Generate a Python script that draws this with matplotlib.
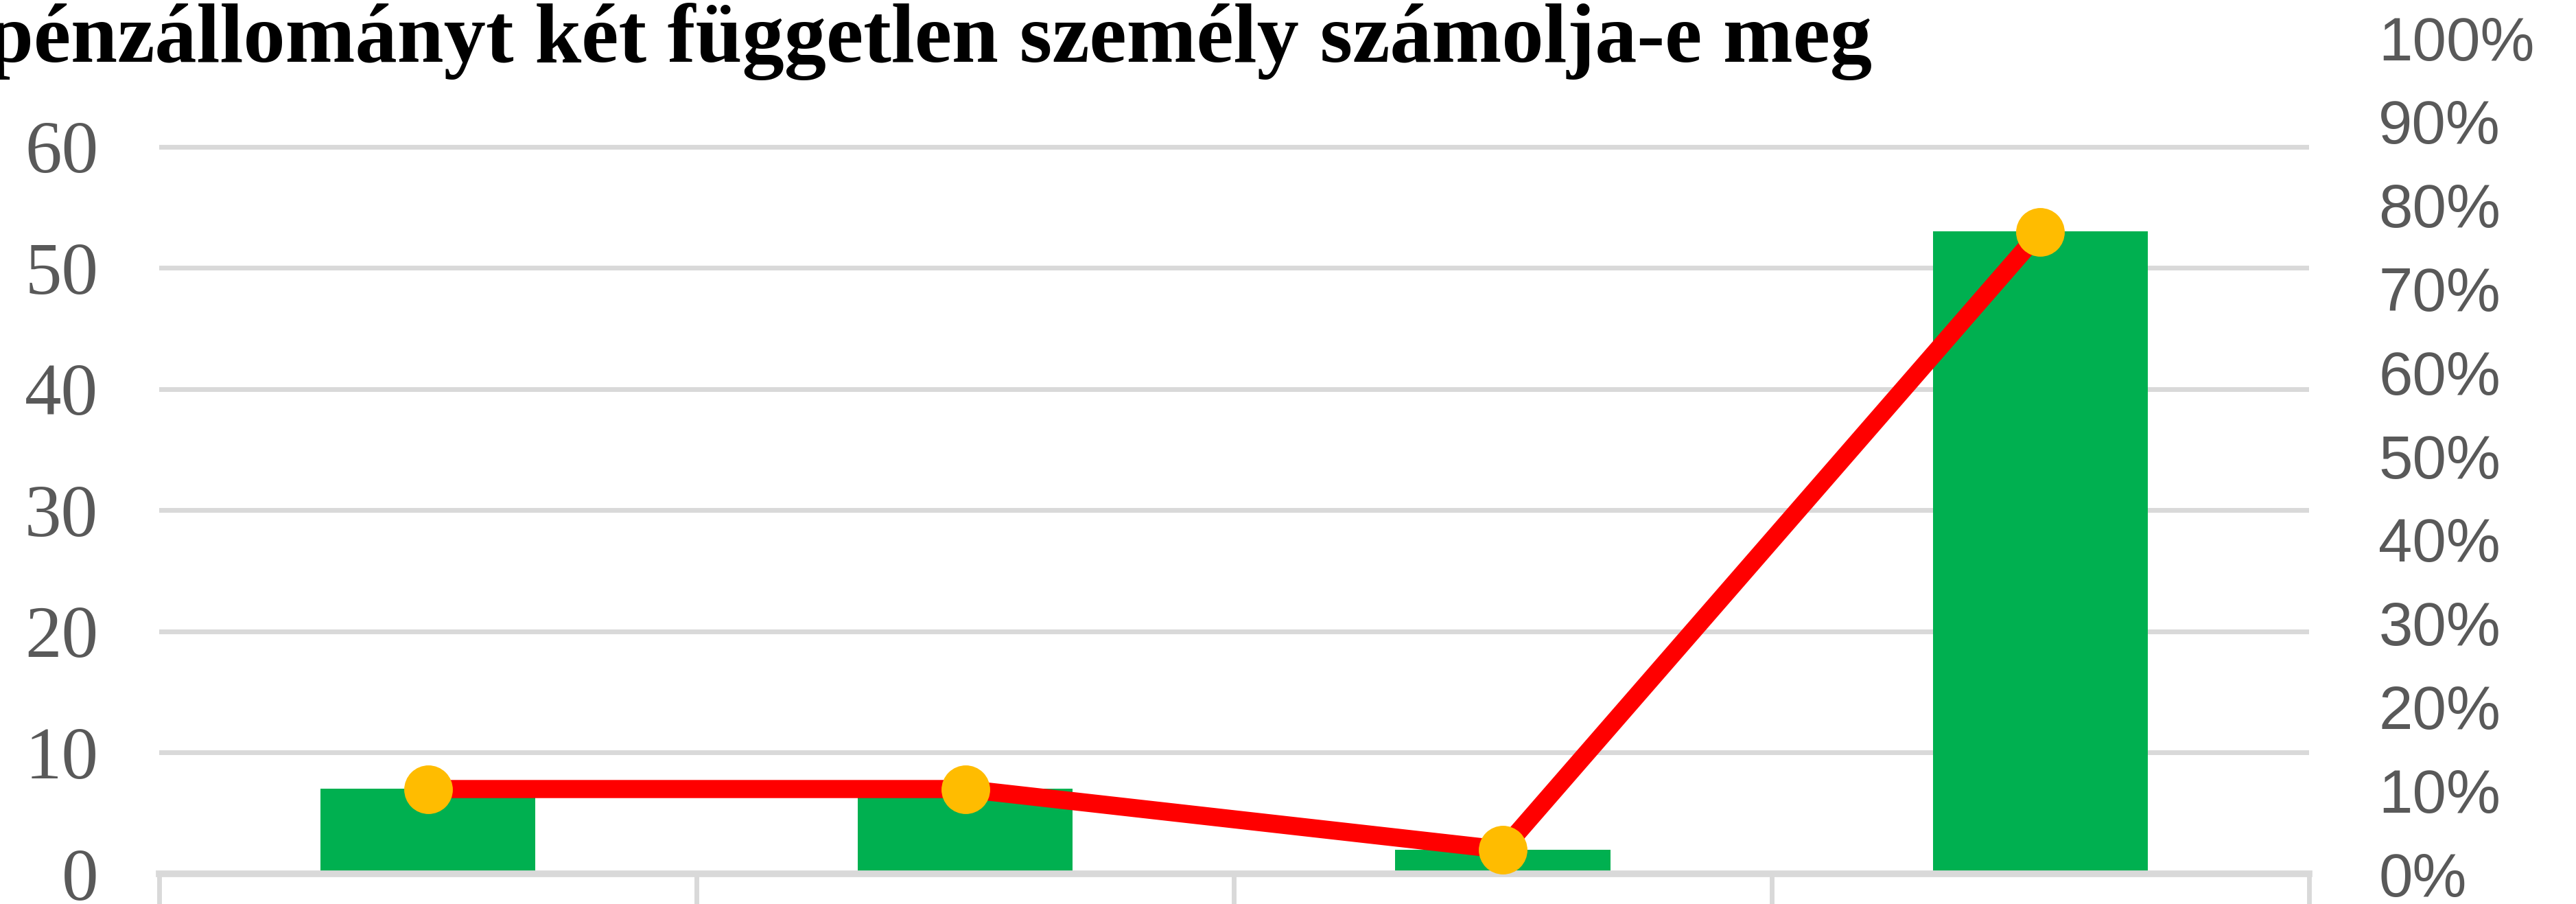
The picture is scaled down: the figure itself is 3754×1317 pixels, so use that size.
import matplotlib
matplotlib.use('Agg')
import matplotlib.pyplot as plt
from matplotlib.ticker import PercentFormatter

# Data
categories = ['A', 'B', 'C', 'D']
counts = [7, 7, 2, 53]
shares = [0.1014, 0.1014, 0.029, 0.768]
left_ticks = [0, 10, 20, 30, 40, 50, 60]
right_ticks = [0, 0.1, 0.2, 0.3, 0.4, 0.5, 0.6, 0.7, 0.8, 0.9, 1.0]

title = 'pénzállományt két független személy számolja-e meg'

grid_color = '#D9D9D9'
label_color = '#595959'

fig = plt.figure(figsize=(37.55, 13.17), dpi=100)
ax = fig.add_axes([0.0618, 0.0334, 0.8343, 0.9248])

x = list(range(len(categories)))

# Bars (left axis)
ax.bar(x, counts, width=0.4, color='#00B050', zorder=2)
ax.set_xlim(-0.5, len(categories) - 0.5)
ax.set_ylim(0, 69)
ax.set_yticks(left_ticks)
ax.yaxis.grid(True, color=grid_color, linewidth=5)
ax.set_axisbelow(True)
for side in ['left', 'right', 'top']:
    ax.spines[side].set_visible(False)
ax.spines['bottom'].set_color(grid_color)
ax.spines['bottom'].set_linewidth(7)
ax.spines['bottom'].set_zorder(3)

ax.tick_params(axis='y', length=0, pad=64, labelsize=77, labelcolor=label_color)
for lab in ax.get_yticklabels():
    lab.set_fontfamily('Liberation Serif')

# Category dividers hanging below the axis
ax.set_xticks([i - 0.5 for i in range(len(categories) + 1)])
ax.set_xticklabels([])
ax.tick_params(axis='x', direction='out', length=60, width=5, color=grid_color)

# Percentage line (right axis)
ax2 = ax.twinx()
ax2.plot(x, shares, color='#FF0000', linewidth=19, solid_capstyle='butt',
         marker='o', markersize=50, markerfacecolor='#FFBC00',
         markeredgecolor='#FFBC00', zorder=4)
ax2.set_ylim(0, 1)
ax2.set_yticks(right_ticks)
ax2.yaxis.set_major_formatter(PercentFormatter(1.0, decimals=0))
for side in ['left', 'right', 'top', 'bottom']:
    ax2.spines[side].set_visible(False)
ax2.tick_params(axis='y', length=0, pad=73, labelsize=64, labelcolor=label_color)
for lab in ax2.get_yticklabels():
    lab.set_fontfamily('Liberation Sans')

# Title, cropped at the left edge like the reference
fig.text(-0.005, 1 - 90 / 1317, title, ha='left', va='baseline',
         fontsize=88, fontweight='bold', fontfamily='Liberation Serif')

fig.savefig('out.png', dpi=100)
